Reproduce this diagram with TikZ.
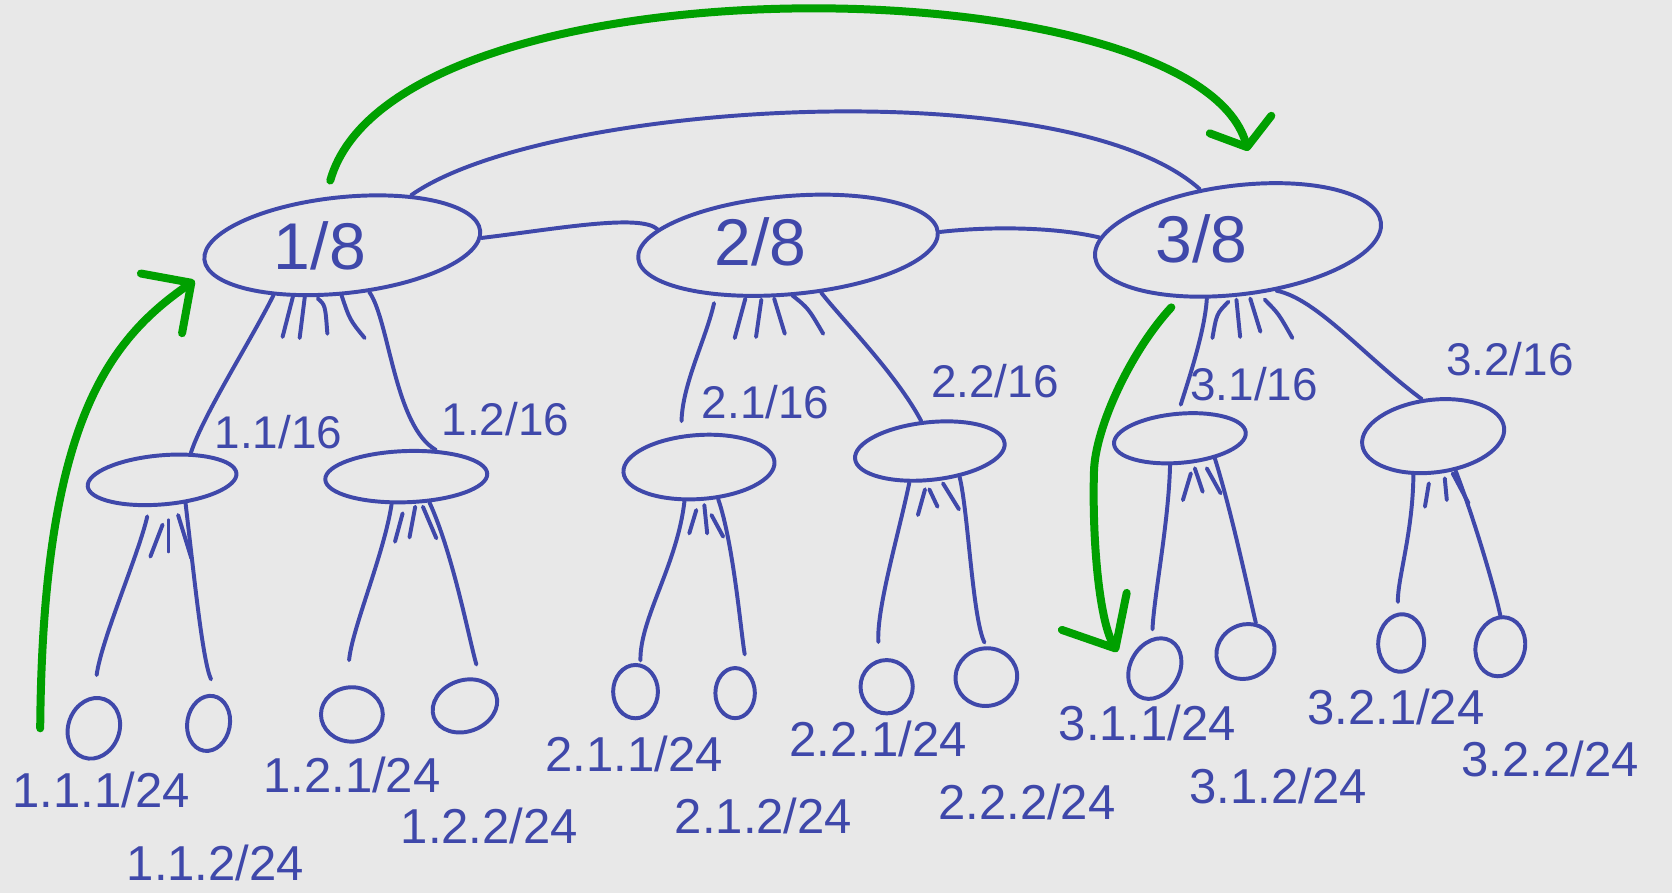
\documentclass[tikz,border=0pt]{standalone}
\usepackage{fontspec}
\setmainfont{Liberation Sans}
\usetikzlibrary{arrows.meta,shapes.geometric}
\definecolor{ink}{HTML}{3F48AA}
\definecolor{pen}{HTML}{00A000}
\definecolor{paper}{HTML}{E8E8E8}
\begin{document}
\begin{tikzpicture}[x=1pt,y=-1pt,
  oval/.style={ellipse, draw=ink, line width=3.7pt, inner sep=0pt},
  link/.style={draw=ink, line width=3.7pt, line cap=round},
  hatch/.style={draw=ink, line width=3.7pt, line cap=round},
  route/.style={draw=pen, line width=7.5pt, line cap=round},
  toplbl/.style={text=ink, font=\fontsize{62}{68}\selectfont, inner sep=0pt},
  midlbl/.style={text=ink, font=\fontsize{43}{47}\selectfont, inner sep=0pt},
  leaflbl/.style={text=ink, font=\fontsize{46}{50}\selectfont, inner sep=0pt}]
\fill[paper] (0,0) rectangle (1568,837);
\useasboundingbox (0,0) rectangle (1568,837);

% level 1
\node[oval, minimum width=260pt, minimum height=90pt, rotate=6] (n1) at (321,230) {};
\node[oval, minimum width=282pt, minimum height=92pt, rotate=5] (n2) at (739,230) {};
\node[oval, minimum width=270pt, minimum height=102pt, rotate=7] (n3) at (1161,225) {};
% level 2
\node[oval, minimum width=140pt, minimum height=46pt, rotate=5] (n11) at (152,450) {};
\node[oval, minimum width=152pt, minimum height=48pt, rotate=2] (n12) at (381,447) {};
\node[oval, minimum width=142pt, minimum height=60pt, rotate=4] (n21) at (655.5,438) {};
\node[oval, minimum width=141pt, minimum height=54pt, rotate=6] (n22) at (872,423) {};
\node[oval, minimum width=124pt, minimum height=46pt, rotate=5] (n31) at (1106.5,411) {};
\node[oval, minimum width=134pt, minimum height=68pt, rotate=7] (n32) at (1344,409) {};
% level 3
\node[oval, minimum width=48pt, minimum height=58pt, rotate=-20] (l111) at (88,683) {};
\node[oval, minimum width=40pt, minimum height=52pt, rotate=-10] (l112) at (195.6,678.4) {};
\node[oval, minimum width=58pt, minimum height=51pt] (l121) at (330,670) {};
\node[oval, minimum width=62pt, minimum height=48pt, rotate=20] (l122) at (436,662) {};
\node[oval, minimum width=42pt, minimum height=50pt] (l211) at (596,648.6) {};
\node[oval, minimum width=37pt, minimum height=47pt] (l212) at (689.4,650) {};
\node[oval, minimum width=49pt, minimum height=50pt] (l221) at (831.5,644) {};
\node[oval, minimum width=58pt, minimum height=54pt, rotate=10] (l222) at (925,635) {};
\node[oval, minimum width=46pt, minimum height=60pt, rotate=-30] (l311) at (1083,627) {};
\node[oval, minimum width=56pt, minimum height=50pt, rotate=30] (l312) at (1168,611) {};
\node[oval, minimum width=43pt, minimum height=54pt, rotate=-5] (l321) at (1314,603) {};
\node[oval, minimum width=46pt, minimum height=56pt, rotate=-15] (l322) at (1407,606.5) {};

% labels
\node[toplbl] (t1) at (300,231) {1/8};
\node[toplbl] (t2) at (713,227) {2/8};
\node[toplbl] (t3) at (1127,224) {3/8};
\node[midlbl] (t11) at (261,405) {1.1/16};
\node[midlbl] (t12) at (474,393) {1.2/16};
\node[midlbl] (t21) at (718,377) {2.1/16};
\node[midlbl] (t22) at (933,357) {2.2/16};
\node[midlbl] (t31) at (1176,360) {3.1/16};
\node[midlbl] (t32) at (1416,337) {3.2/16};
\node[leaflbl] (t111) at (95,741) {1.1.1/24};
\node[leaflbl] (t112) at (202,809) {1.1.2/24};
\node[leaflbl] (t121) at (330,727) {1.2.1/24};
\node[leaflbl] (t122) at (459,775) {1.2.2/24};
\node[leaflbl] (t211) at (594.5,707) {2.1.1/24};
\node[leaflbl] (t212) at (716,765) {2.1.2/24};
\node[leaflbl] (t221) at (823.6,693) {2.2.1/24};
\node[leaflbl] (t222) at (963,752) {2.2.2/24};
\node[leaflbl] (t311) at (1076,678) {3.1.1/24};
\node[leaflbl] (t312) at (1198.6,737) {3.1.2/24};
\node[leaflbl] (t321) at (1309,663) {3.2.1/24};
\node[leaflbl] (t322) at (1453.5,712) {3.2.2/24};

% sibling links
\draw[link] (n1.357) .. controls (520,215) and (600,200) .. (n2.168);
\draw[link] (n2.0) .. controls (930,212) and (990,213) .. (n3.172);
\draw[link] (n1.30) .. controls (510,95) and (1000,65) .. (n3.120);

% parent to child
\draw[link] (n1.210) .. controls (235,320) and (190,390) .. (n11.38);
\draw[link] (n1.294) .. controls (365,300) and (370,400) .. (n12.40);
\draw[link, shorten <=7pt, shorten >=13pt] (n2.210) .. controls (662,318) and (640,360) .. (n21.115);
\draw[link] (n2.300) .. controls (790,300) and (840,350) .. (n22.100);
\draw[link, shorten >=7pt] (n3.235) .. controls (1130,310) and (1115,355) .. (n31.88);
\draw[link] (n3.300) .. controls (1235,280) and (1280,335) .. (n32.100);

\draw[link, shorten <=9pt, shorten >=20pt] (n11.240) .. controls (130,520) and (95,600) .. (l111.110);
\draw[link, shorten >=17pt] (n11.310) .. controls (182,540) and (190,620) .. (l112.80);
\draw[link, shorten >=24pt] (n12.240) .. controls (360,520) and (330,590) .. (l121.100);
\draw[link, shorten >=14pt] (n12.310) .. controls (425,520) and (440,600) .. (l122.40);
\draw[link, shorten >=3pt] (n21.243) .. controls (635,530) and (600,580) .. (l211.80);
\draw[link, shorten >=16pt] (n21.297) .. controls (688,510) and (695,595) .. (l212.60);
\draw[link, shorten >=16pt] (n22.231) .. controls (843,500) and (822,570) .. (l221.105);
\draw[link, shorten >=4pt] (n22.313) .. controls (908,480) and (912,580) .. (l222.80);
\draw[link, shorten >=8pt] (n31.245) .. controls (1096,490) and (1082,560) .. (l311.125);
\draw[link] (n31.325) .. controls (1155,480) and (1172,560) .. (l312.40);
\draw[link, shorten >=10pt] (n32.236) .. controls (1325,500) and (1310,545) .. (l321.100);
\draw[link] (n32.296) .. controls (1380,480) and (1400,545) .. (l322.105);

% strokes for the omitted children
\draw[hatch] (275,277) -- (265,316);
\draw[hatch] (286,277) -- (281,317);
\draw[hatch] (298,280) .. controls (305,286) .. (307,313);
\draw[hatch] (320,276) .. controls (328,300) .. (342,317);
\draw[hatch] (699,280) -- (689,317);
\draw[hatch] (714,281) -- (709,316);
\draw[hatch] (726,280) -- (736,313);
\draw[hatch] (743,277) .. controls (758,289) .. (772,313);
\draw[hatch] (1152,283) .. controls (1141,294) .. (1137,317);
\draw[hatch] (1159.5,281) -- (1163,316);
\draw[hatch] (1172.5,280) -- (1182,311);
\draw[hatch] (1186,281) .. controls (1199,294) .. (1212,317);
\draw[hatch] (152.5,492) -- (141,522);
\draw[hatch] (158,488) -- (158,517);
\draw[hatch] (167,483) -- (179.5,523.6);
\draw[hatch] (377.6,481.4) -- (370.4,508);
\draw[hatch] (389.4,475.2) -- (384,504);
\draw[hatch] (396.6,475.2) -- (409.2,504.8);
\draw[hatch] (653,478.3) -- (646.4,500.2);
\draw[hatch] (660.5,473.6) -- (663.2,500.2);
\draw[hatch] (667.2,483) -- (678.2,503.3);
\draw[hatch] (860.8,483) -- (867.5,458.9);
\draw[hatch] (871.5,458.9) -- (879.2,475.2);
\draw[hatch] (884.3,453.3) -- (899.3,477.6);
\draw[hatch] (1116.8,443.9) -- (1109.3,469);
\draw[hatch] (1120.5,439.2) -- (1127.9,461.1);
\draw[hatch] (1131.7,439.2) -- (1144.7,462.6);
\draw[hatch] (1340,453.3) -- (1336.3,475.2);
\draw[hatch] (1354.9,448.6) -- (1356.8,468.9);
\draw[hatch] (1362.3,443.9) -- (1377.2,472);

% traversal route
\coordinate (gs) at (37.7,683);
\draw[route, shorten >=15pt, -{Straight Barb[length=34pt,width=68pt,round]}]
  (gs) .. controls (40,400) and (100,320) .. (n1.185);
\draw[route, shorten <=16pt, shorten >=30pt, -{Straight Barb[length=22pt,width=60pt,round]}]
  (n1.103) .. controls (370,-45) and (1120,-35) .. (n3.65);
\draw[route, shorten <=12pt, shorten >=18pt, -{Straight Barb[length=40pt,width=70pt,round]}]
  (n3.218) .. controls (1060,330) and (1028,400) .. (1026,440)
  .. controls (1024,500) and (1030,580) .. (l311.210);
\end{tikzpicture}
\end{document}
